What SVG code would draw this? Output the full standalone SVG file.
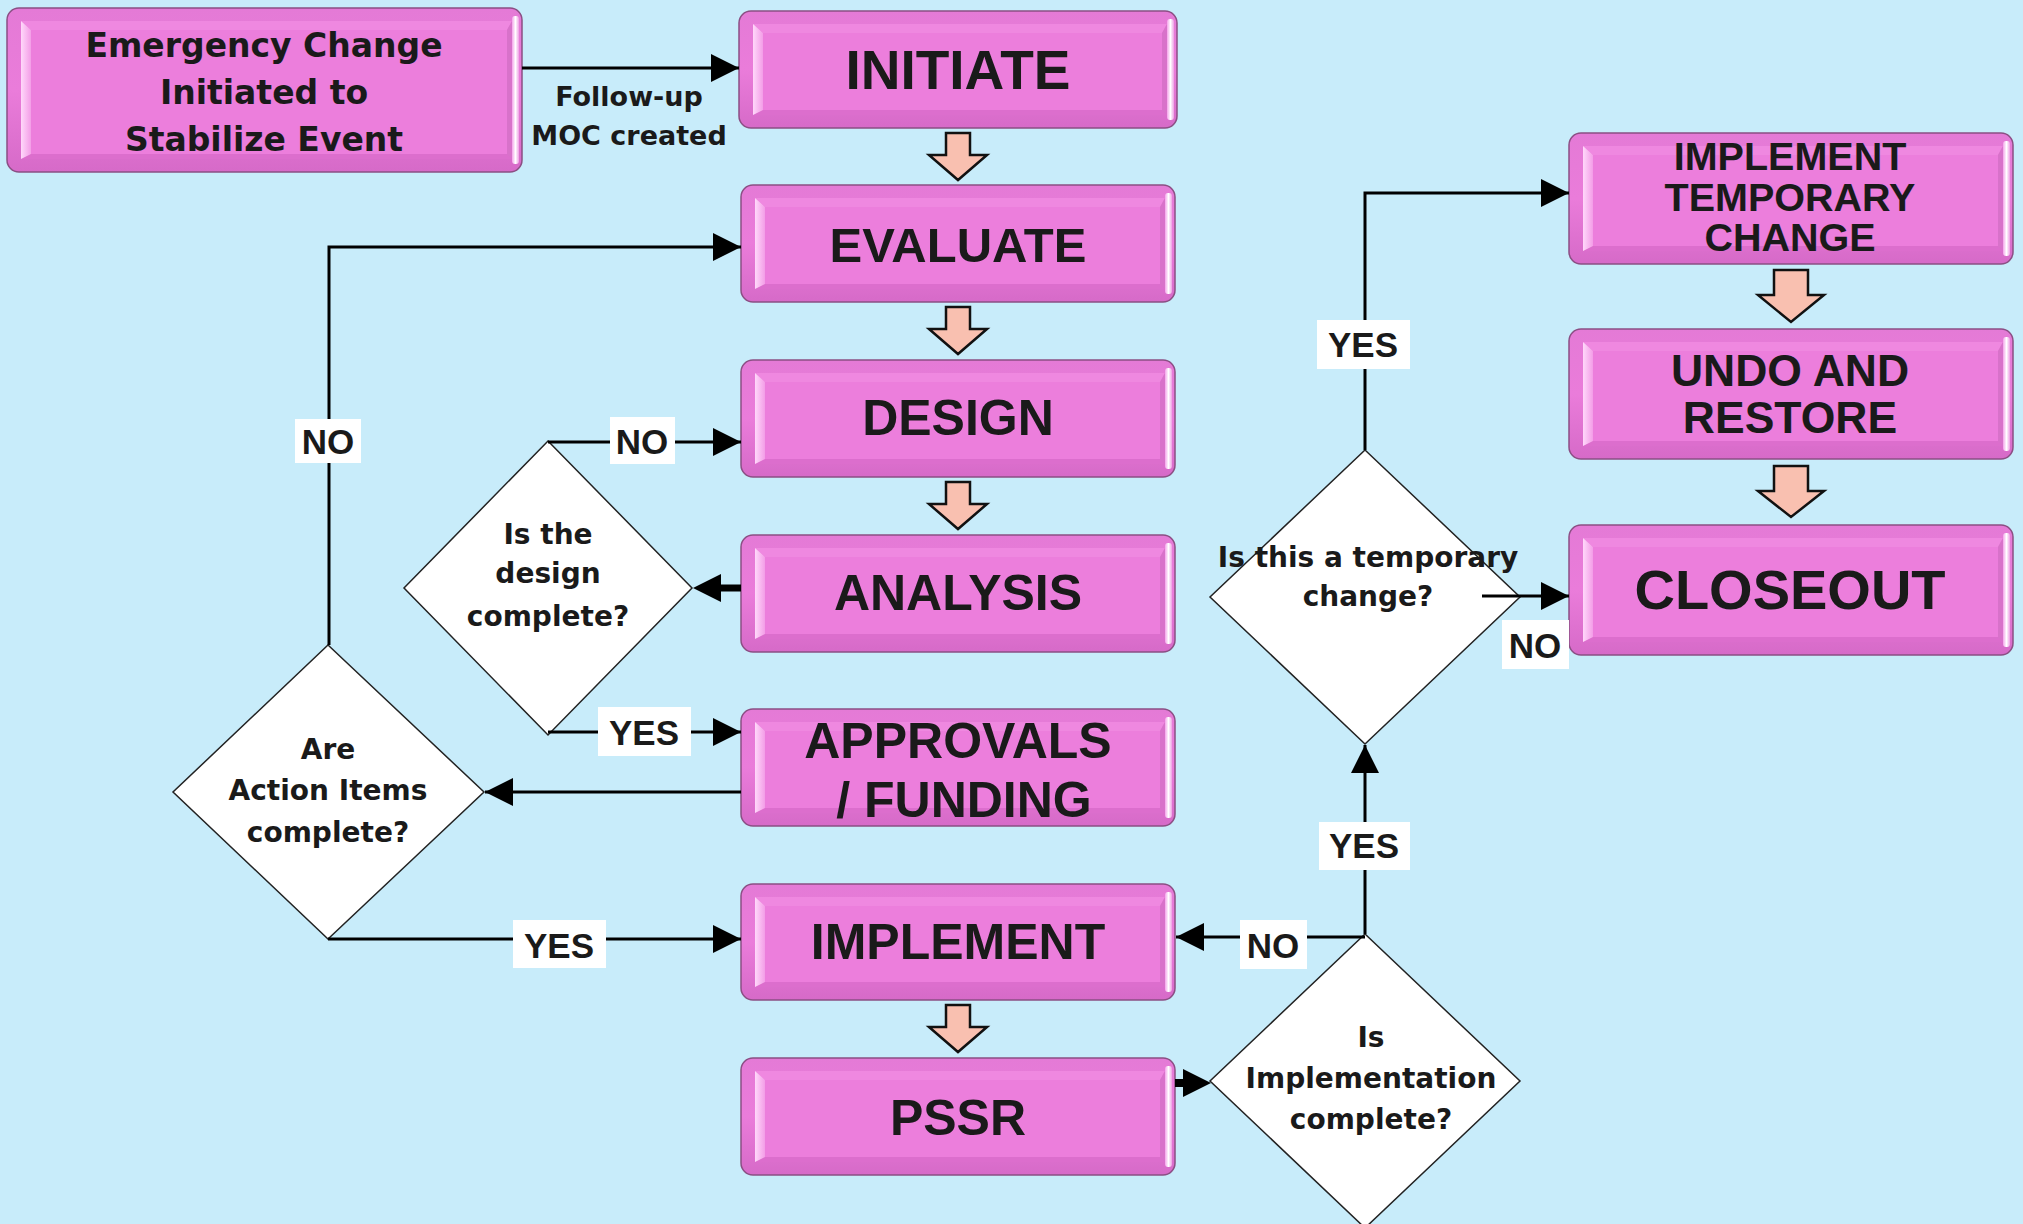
<svg xmlns="http://www.w3.org/2000/svg" width="2023" height="1224" viewBox="0 0 2023 1224">
  <defs>
    <style>
      .rim { fill: url(#rimGrad); stroke: #8b4f84; stroke-width: 1.5; }
      .face { fill: #ec7edc; }
      .ft { fill: #ef88e0; }
      .fb { fill: #dc6ecd; }
      .fl { fill: url(#leftGrad); }
      .fr { fill: #d872ca; }
      .hl { fill: url(#hlGrad); }
      .lbl { font-family: "Liberation Sans", Arial, sans-serif; font-weight: 700; fill: #1a1a1a; text-anchor: middle; }
      .q { font-family: "DejaVu Sans", Verdana, sans-serif; font-weight: 700; fill: #1a1a1a; text-anchor: middle; font-size: 28px; }
      .em { font-family: "DejaVu Sans", Verdana, sans-serif; font-weight: 700; fill: #1a1a1a; text-anchor: middle; }
      .dia { fill: #ffffff; stroke: #222; stroke-width: 1.5; }
      .tag rect { fill: #ffffff; }
      .tag text { font-family: "Liberation Sans", Arial, sans-serif; font-weight: 700; font-size: 35px; fill: #1a1a1a; text-anchor: middle; }
      .blk { fill: #f9c0b0; stroke: #111; stroke-width: 2.5; stroke-linejoin: miter; }
    </style>
    <linearGradient id="rimGrad" x1="0" y1="0" x2="0" y2="1">
      <stop offset="0" stop-color="#e47ad6"/>
      <stop offset="0.5" stop-color="#ea7cda"/>
      <stop offset="1" stop-color="#d66ac8"/>
    </linearGradient>
    <linearGradient id="leftGrad" x1="0" y1="0" x2="1" y2="0">
      <stop offset="0" stop-color="#ffd8fa"/>
      <stop offset="1" stop-color="#f39de7"/>
    </linearGradient>
    <linearGradient id="hlGrad" x1="0" y1="0" x2="1" y2="0">
      <stop offset="0" stop-color="#f4a2ea"/>
      <stop offset="0.5" stop-color="#ffffff"/>
      <stop offset="1" stop-color="#ee9ee4"/>
    </linearGradient>
    <marker id="ah" markerUnits="userSpaceOnUse" markerWidth="28" markerHeight="28" refX="28" refY="14" orient="auto" viewBox="0 0 28 28">
      <path d="M0,0 L28,14 L0,28 Z" fill="#000"/>
    </marker>
    <marker id="ahc" markerUnits="userSpaceOnUse" markerWidth="28" markerHeight="28" refX="14" refY="14" orient="auto" viewBox="0 0 28 28">
      <path d="M0,0 L28,14 L0,28 Z" fill="#000"/>
    </marker>
  </defs>

  <!-- backdrop -->
  <rect x="0" y="0" width="2023" height="1224" fill="#c8ecfa"/>

  <!-- process boxes -->
  <g id="emergency">
    <g transform="translate(7,8)">
      <rect class="rim" x="0" y="0" width="515" height="164" rx="12"/>
      <polygon class="ft" points="14,13 505,13 500,22 24,22"/>
      <polygon class="fb" points="14,151 505,151 500,146 24,146"/>
      <polygon class="fl" points="14,13 24,22 24,146 14,151"/>
      <polygon class="fr" points="505,13 500,22 500,146 505,151"/>
      <rect class="hl" x="505" y="8" width="7" height="148" rx="3"/>
      <rect class="face" x="24" y="22" width="476" height="124"/>
    </g>
    <text class="em" font-size="33" x="264" y="57">Emergency Change</text>
    <text class="em" font-size="33" x="264" y="104">Initiated to</text>
    <text class="em" font-size="33" x="264" y="151">Stabilize Event</text>
  </g>

  <g id="initiate">
    <g transform="translate(739,11)">
      <rect class="rim" x="0" y="0" width="438" height="117" rx="12"/>
      <polygon class="ft" points="14,13 428,13 423,22 24,22"/>
      <polygon class="fb" points="14,104 428,104 423,99 24,99"/>
      <polygon class="fl" points="14,13 24,22 24,99 14,104"/>
      <polygon class="fr" points="428,13 423,22 423,99 428,104"/>
      <rect class="hl" x="428" y="8" width="7" height="101" rx="3"/>
      <rect class="face" x="24" y="22" width="399" height="77"/>
    </g>
    <text class="lbl" font-size="55" x="958" y="89">INITIATE</text>
  </g>

  <g id="evaluate">
    <g transform="translate(741,185)">
      <rect class="rim" x="0" y="0" width="434" height="117" rx="12"/>
      <polygon class="ft" points="14,13 424,13 419,22 24,22"/>
      <polygon class="fb" points="14,104 424,104 419,99 24,99"/>
      <polygon class="fl" points="14,13 24,22 24,99 14,104"/>
      <polygon class="fr" points="424,13 419,22 419,99 424,104"/>
      <rect class="hl" x="424" y="8" width="7" height="101" rx="3"/>
      <rect class="face" x="24" y="22" width="395" height="77"/>
    </g>
    <text class="lbl" font-size="49" x="958" y="262">EVALUATE</text>
  </g>

  <g id="design">
    <g transform="translate(741,360)">
      <rect class="rim" x="0" y="0" width="434" height="117" rx="12"/>
      <polygon class="ft" points="14,13 424,13 419,22 24,22"/>
      <polygon class="fb" points="14,104 424,104 419,99 24,99"/>
      <polygon class="fl" points="14,13 24,22 24,99 14,104"/>
      <polygon class="fr" points="424,13 419,22 419,99 424,104"/>
      <rect class="hl" x="424" y="8" width="7" height="101" rx="3"/>
      <rect class="face" x="24" y="22" width="395" height="77"/>
    </g>
    <text class="lbl" font-size="50" x="958" y="435">DESIGN</text>
  </g>

  <g id="analysis">
    <g transform="translate(741,535)">
      <rect class="rim" x="0" y="0" width="434" height="117" rx="12"/>
      <polygon class="ft" points="14,13 424,13 419,22 24,22"/>
      <polygon class="fb" points="14,104 424,104 419,99 24,99"/>
      <polygon class="fl" points="14,13 24,22 24,99 14,104"/>
      <polygon class="fr" points="424,13 419,22 419,99 424,104"/>
      <rect class="hl" x="424" y="8" width="7" height="101" rx="3"/>
      <rect class="face" x="24" y="22" width="395" height="77"/>
    </g>
    <text class="lbl" font-size="50" x="958" y="610">ANALYSIS</text>
  </g>

  <g id="approvals">
    <g transform="translate(741,709)">
      <rect class="rim" x="0" y="0" width="434" height="117" rx="12"/>
      <polygon class="ft" points="14,13 424,13 419,22 24,22"/>
      <polygon class="fb" points="14,104 424,104 419,99 24,99"/>
      <polygon class="fl" points="14,13 24,22 24,99 14,104"/>
      <polygon class="fr" points="424,13 419,22 419,99 424,104"/>
      <rect class="hl" x="424" y="8" width="7" height="101" rx="3"/>
      <rect class="face" x="24" y="22" width="395" height="77"/>
    </g>
    <text class="lbl" font-size="50" x="958" y="758">APPROVALS</text>
    <text class="lbl" font-size="50" x="964" y="817">/ FUNDING</text>
  </g>

  <g id="implement">
    <g transform="translate(741,884)">
      <rect class="rim" x="0" y="0" width="434" height="116" rx="12"/>
      <polygon class="ft" points="14,13 424,13 419,22 24,22"/>
      <polygon class="fb" points="14,103 424,103 419,98 24,98"/>
      <polygon class="fl" points="14,13 24,22 24,98 14,103"/>
      <polygon class="fr" points="424,13 419,22 419,98 424,103"/>
      <rect class="hl" x="424" y="8" width="7" height="100" rx="3"/>
      <rect class="face" x="24" y="22" width="395" height="76"/>
    </g>
    <text class="lbl" font-size="50" x="958" y="959">IMPLEMENT</text>
  </g>

  <g id="pssr">
    <g transform="translate(741,1058)">
      <rect class="rim" x="0" y="0" width="434" height="117" rx="12"/>
      <polygon class="ft" points="14,13 424,13 419,22 24,22"/>
      <polygon class="fb" points="14,104 424,104 419,99 24,99"/>
      <polygon class="fl" points="14,13 24,22 24,99 14,104"/>
      <polygon class="fr" points="424,13 419,22 419,99 424,104"/>
      <rect class="hl" x="424" y="8" width="7" height="101" rx="3"/>
      <rect class="face" x="24" y="22" width="395" height="77"/>
    </g>
    <text class="lbl" font-size="50" x="958" y="1135">PSSR</text>
  </g>

  <g id="temp-change">
    <g transform="translate(1569,133)">
      <rect class="rim" x="0" y="0" width="444" height="131" rx="12"/>
      <polygon class="ft" points="14,13 434,13 429,22 24,22"/>
      <polygon class="fb" points="14,118 434,118 429,113 24,113"/>
      <polygon class="fl" points="14,13 24,22 24,113 14,118"/>
      <polygon class="fr" points="434,13 429,22 429,113 434,118"/>
      <rect class="hl" x="434" y="8" width="7" height="115" rx="3"/>
      <rect class="face" x="24" y="22" width="405" height="91"/>
    </g>
    <text class="lbl" font-size="39.5" x="1790" y="170">IMPLEMENT</text>
    <text class="lbl" font-size="39.5" x="1790" y="211">TEMPORARY</text>
    <text class="lbl" font-size="39.5" x="1790" y="251">CHANGE</text>
  </g>

  <g id="undo-restore">
    <g transform="translate(1569,329)">
      <rect class="rim" x="0" y="0" width="444" height="130" rx="12"/>
      <polygon class="ft" points="14,13 434,13 429,22 24,22"/>
      <polygon class="fb" points="14,117 434,117 429,112 24,112"/>
      <polygon class="fl" points="14,13 24,22 24,112 14,117"/>
      <polygon class="fr" points="434,13 429,22 429,112 434,117"/>
      <rect class="hl" x="434" y="8" width="7" height="114" rx="3"/>
      <rect class="face" x="24" y="22" width="405" height="90"/>
    </g>
    <text class="lbl" font-size="44.5" x="1790" y="386">UNDO AND</text>
    <text class="lbl" font-size="44.5" x="1790" y="433">RESTORE</text>
  </g>

  <g id="closeout">
    <g transform="translate(1569,525)">
      <rect class="rim" x="0" y="0" width="444" height="130" rx="12"/>
      <polygon class="ft" points="14,13 434,13 429,22 24,22"/>
      <polygon class="fb" points="14,117 434,117 429,112 24,112"/>
      <polygon class="fl" points="14,13 24,22 24,112 14,117"/>
      <polygon class="fr" points="434,13 429,22 429,112 434,117"/>
      <rect class="hl" x="434" y="8" width="7" height="114" rx="3"/>
      <rect class="face" x="24" y="22" width="405" height="90"/>
    </g>
    <text class="lbl" font-size="56" x="1790" y="609">CLOSEOUT</text>
  </g>

  <!-- decisions -->
  <g id="design-complete">
    <polygon class="dia" points="548,441 692,588 548,735 404,588"/>
    <text class="q" x="548" y="544">Is the</text>
    <text class="q" x="548" y="583">design</text>
    <text class="q" x="548" y="626">complete?</text>
  </g>

  <g id="action-items">
    <polygon class="dia" points="328,645 484,792 328,939 173,792"/>
    <text class="q" x="328" y="759">Are</text>
    <text class="q" x="328" y="800">Action Items</text>
    <text class="q" x="328" y="842">complete?</text>
  </g>

  <g id="temporary">
    <polygon class="dia" points="1365,450 1520,597 1365,744 1210,597"/>
    <text class="q" x="1368" y="567">Is this a temporary</text>
    <text class="q" x="1368" y="606">change?</text>
  </g>

  <g id="implementation-complete">
    <polygon class="dia" points="1365,934 1520,1081 1365,1228 1210,1081"/>
    <text class="q" x="1371" y="1047">Is</text>
    <text class="q" x="1371" y="1088">Implementation</text>
    <text class="q" x="1371" y="1129">complete?</text>
  </g>

  <!-- connectors, block arrows and branch tags -->
  <g id="connectors">
    <g fill="none" stroke="#000" stroke-width="3">
      <path d="M522,68 H739" marker-end="url(#ah)"/>
      <path d="M329,645 V247 H741" marker-end="url(#ah)"/>
      <path d="M548,442 H741" marker-end="url(#ah)"/>
      <path d="M741,588 H707" stroke-width="7" marker-end="url(#ahc)"/>
      <path d="M548,732 H741" marker-end="url(#ah)"/>
      <path d="M741,792 H485" marker-end="url(#ah)"/>
      <path d="M328,939 H741" marker-end="url(#ah)"/>
      <path d="M1365,937 H1176" marker-end="url(#ah)"/>
      <path d="M1365,934 V745" marker-end="url(#ah)"/>
      <path d="M1175,1083 H1197" stroke-width="8" marker-end="url(#ahc)"/>
      <path d="M1365,450 V193 H1569" marker-end="url(#ah)"/>
      <path d="M1482,596 H1569" marker-end="url(#ah)"/>
    </g>

    <g id="block-arrows">
      <path class="blk" transform="translate(958,133)" d="M-12,0 H12 V22 H29 L0,47 L-29,22 H-12 Z"/>
      <path class="blk" transform="translate(958,307)" d="M-12,0 H12 V22 H29 L0,47 L-29,22 H-12 Z"/>
      <path class="blk" transform="translate(958,482)" d="M-12,0 H12 V22 H29 L0,47 L-29,22 H-12 Z"/>
      <path class="blk" transform="translate(958,1005)" d="M-12,0 H12 V22 H29 L0,47 L-29,22 H-12 Z"/>
      <path class="blk" transform="translate(1791,270)" d="M-17,0 H17 V25 H33 L0,52 L-33,25 H-17 Z"/>
      <path class="blk" transform="translate(1791,466)" d="M-17,0 H17 V25 H33 L0,51 L-33,25 H-17 Z"/>
    </g>

    <text class="em" font-size="27" x="629" y="106">Follow-up</text>
    <text class="em" font-size="27" x="629" y="145">MOC created</text>

    <g class="tag"><rect x="295" y="419" width="66" height="44"/><text x="328" y="454">NO</text></g>
    <g class="tag"><rect x="610" y="417" width="65" height="47"/><text x="642" y="454">NO</text></g>
    <g class="tag"><rect x="598" y="707" width="93" height="49"/><text x="644" y="745">YES</text></g>
    <g class="tag"><rect x="513" y="920" width="93" height="48"/><text x="559" y="958">YES</text></g>
    <g class="tag"><rect x="1240" y="920" width="67" height="49"/><text x="1273" y="958">NO</text></g>
    <g class="tag"><rect x="1319" y="822" width="91" height="48"/><text x="1364" y="858">YES</text></g>
    <g class="tag"><rect x="1317" y="320" width="93" height="49"/><text x="1363" y="357">YES</text></g>
    <g class="tag"><rect x="1502" y="620" width="67" height="49"/><text x="1535" y="658">NO</text></g>
  </g>
</svg>
